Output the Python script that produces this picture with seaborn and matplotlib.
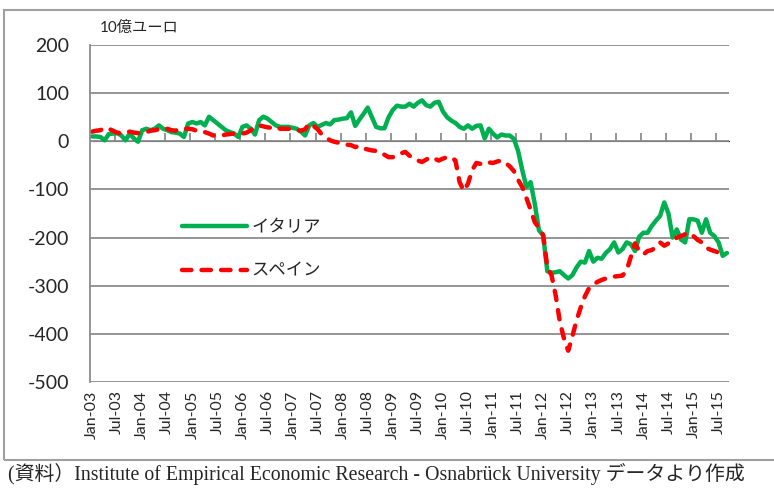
import numpy as np
import pandas as pd
import seaborn as sns
import matplotlib.pyplot as plt

# 月次データ 2003年1月～2015年9月（10億ユーロ）
start = "2003-01"
n_months = 153

italy = [
    10, 10, 9, 2, 15, 16, 17, 12, 2, 16, 6, -1,                     # 2003
    23, 26, 23, 26, 33, 26, 23, 19, 18, 16, 9, 37,                  # 2004
    40, 37, 40, 33, 51, 44, 37, 30, 23, 19, 16, 9,                  # 2005
    30, 33, 26, 14, 44, 51, 47, 40, 33, 30, 30, 30,                 # 2006
    28, 26, 20, 12, 33, 38, 30, 34, 38, 35, 44, 45,                 # 2007
    47, 48, 60, 32, 45, 57, 70, 50, 30, 27, 27, 50,                 # 2008
    65, 74, 72, 72, 78, 72, 80, 85, 75, 72, 80, 82,                 # 2009
    62, 50, 43, 38, 30, 26, 33, 26, 32, 33, 6, 26,                  # 2010
    16, 8, 14, 12, 12, 5, -20, -60, -95, -85, -130, -185,           # 2011
    -195, -270, -273, -272, -270, -278, -285, -278, -262, -250, -252, -228,  # 2012
    -250, -242, -244, -232, -224, -210, -231, -224, -210, -214, -228, -198,  # 2013
    -190, -190, -176, -165, -155, -127, -150, -200, -183, -204, -210, -162,  # 2014
    -162, -165, -190, -162, -190, -197, -210, -238, -232,           # 2015
]

spain = [
    20, 22, 23, 28, 26, 22, 18, 16, 19, 20, 18, 17,
    19, 19, 22, 23, 25, 28, 26, 23, 22, 26, 26, 26,
    25, 22, 19, 19, 16, 12, 12, 12, 14, 15, 16, 16,
    16, 18, 23, 30, 33, 31, 29, 28, 30, 26, 26, 26,
    25, 23, 22, 25, 37, 32, 25, 14, 8, 2, -1, -3,
    -5, -7, -8, -12, -10, -15, -17, -19, -20, -22, -28, -33,
    -33, -30, -25, -22, -30, -35, -40, -43, -38, -33, -36, -40,
    -36, -33, -33, -40, -85, -103, -88, -60, -45, -47, -48, -44,
    -45, -42, -40, -45, -52, -62, -80, -95, -118, -142, -168, -180,
    -195, -262, -278, -320, -375, -410, -435, -405, -372, -345, -322, -305,
    -298, -292, -288, -285, -283, -281, -280, -279, -268, -240, -212, -228,
    -235, -228, -226, -220, -210, -217, -212, -208, -200, -197, -193, -190,
    -197, -205, -210, -221, -225, -228, -231, -230, -228,
]

months = pd.period_range(start, periods=n_months, freq="M")
tick_labels = [p.strftime("%b-%y") for p in months[::6]]

df = pd.DataFrame({"m": np.arange(n_months), "イタリア": italy, "スペイン": spain})

sns.set_style("white")
plt.rcParams["font.family"] = ["Lato", "Noto Sans CJK JP", "DejaVu Sans"]
plt.rcParams["axes.unicode_minus"] = False

fig = plt.figure(figsize=(7.74, 4.93), dpi=100)
ax = fig.add_axes([90 / 774, 1 - 382 / 493, 639 / 774, 337 / 493])

sns.lineplot(data=df, x="m", y="イタリア", color="#00B050", linewidth=3.2,
             label="イタリア", ax=ax)
sns.lineplot(data=df, x="m", y="スペイン", color="#FF0000", linewidth=3.2,
             linestyle=(0, (2.1, 2.3)), label="スペイン", ax=ax)
ax.lines[1].set_dash_capstyle("round")

ax.set_xlim(-0.5, n_months - 0.5)
ax.set_ylim(-500, 200)
ax.set_yticks(range(-500, 201, 100))
ax.yaxis.grid(True, color="#8c8c8c", linewidth=1.3)
ax.xaxis.grid(False)
ax.set_xlabel("")
ax.set_ylabel("")

for s in ["top", "right", "bottom"]:
    ax.spines[s].set_visible(False)
ax.spines["left"].set_color("#8c8c8c")
ax.spines["left"].set_linewidth(1.3)
ax.tick_params(axis="y", length=7, width=1.3, color="#8c8c8c", labelsize=14, pad=8)

ax.set_xticks(np.arange(0, n_months, 6))
ax.set_xticklabels(tick_labels, rotation=90, fontsize=11.5)
ax.tick_params(axis="x", length=0, pad=6)

# 横軸（0の位置）と目盛り
sec = ax.secondary_xaxis(5 / 7)
sec.set_xticks(np.arange(5.5, n_months, 6))
sec.set_xticklabels([])
sec.tick_params(axis="x", length=6, width=1.3, color="#8c8c8c", direction="out")
sec.spines["bottom"].set_color("#8c8c8c")
sec.spines["bottom"].set_linewidth(1.3)

leg = ax.legend(loc="upper left", bbox_to_anchor=(0.12, 0.53), frameon=False,
                fontsize=12.5, handlelength=3.7, handletextpad=0.3, labelspacing=1.6)
leg.get_lines()[1].set_dash_capstyle("round")

fig.text(100 / 774, 1 - 28 / 493, "10億ユーロ", fontsize=11, va="center", ha="left")
fig.text(8 / 774, 1 - 474 / 493,
         "(資料）Institute of Empirical Economic Research - Osnabrück University データより作成",
         fontsize=14.3, va="center", ha="left",
         family=["Liberation Serif", "Noto Sans CJK JP"])

fig.add_artist(plt.Rectangle((4 / 774, 1 - 460 / 493), 1, 450 / 493,
                             transform=fig.transFigure, fill=False,
                             edgecolor="#a0a0a0", linewidth=1.5))

fig.savefig("out.png", dpi=100)
